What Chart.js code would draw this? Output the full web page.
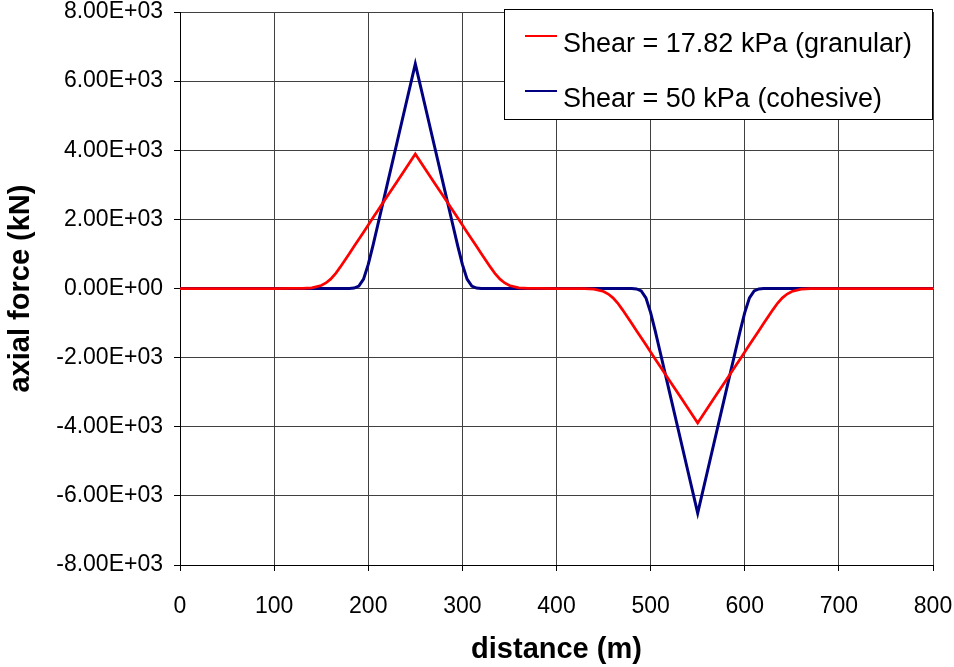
<!DOCTYPE html>
<html>
<head>
<meta charset="utf-8">
<title>Axial force vs distance</title>
<script src="https://cdn.jsdelivr.net/npm/chart.js@4.4.0/dist/chart.umd.min.js"></script>
<style>
    html, body { margin: 0; padding: 0; background: #fff; }
    canvas { display: block; }
</style>
</head>
<body>
<canvas id="forceChart" width="954" height="667"></canvas>
<script>
// distance along the line (m)
const distances = [
    0, 50, 100, 120, 130, 140, 150, 155, 160, 165, 170, 175, 180, 185, 190, 195,
    200, 205, 210, 220, 230, 240, 250, 260, 270, 280, 290, 295, 300, 305, 310,
    315, 320, 325, 330, 335, 340, 345, 350, 360, 370, 380, 400,
    420, 430, 440, 450, 455, 460, 465, 470, 475, 480, 485, 490, 495, 500, 505,
    510, 520, 530, 540, 550, 560, 570, 580, 590, 595, 600, 605, 610, 615, 620,
    625, 630, 635, 640, 645, 650, 660, 670, 680, 700, 750, 800
];

// axial force (kN), granular soil
const granular = [
    0, 0, 0, 1, 5, 20, 85, 160, 270, 420, 610, 810, 1015, 1220, 1425, 1630,
    1835, 2045, 2250, 2660, 3070, 3480, 3890, 3480, 3070, 2660, 2250, 2045, 1835, 1630, 1425,
    1220, 1015, 810, 610, 420, 270, 160, 85, 20, 5, 1, 0,
    -1, -5, -20, -85, -160, -270, -420, -610, -810, -1015, -1220, -1425, -1630, -1835, -2045,
    -2250, -2660, -3070, -3480, -3890, -3480, -3070, -2660, -2250, -2045, -1835, -1630, -1425, -1220, -1015,
    -810, -610, -420, -270, -160, -85, -20, -5, -1, 0, 0, 0
];

// axial force (kN), cohesive soil
const cohesive = [
    0, 0, 0, 0, 0, 0, 0, 0, 0, 0, 0, 1, 3, 13, 68, 270,
    697, 1243, 1823, 2990, 4160, 5330, 6500, 5330, 4160, 2990, 1823, 1243, 697, 270, 68,
    13, 3, 1, 0, 0, 0, 0, 0, 0, 0, 0, 0,
    0, 0, 0, 0, 0, 0, 0, 0, -1, -3, -13, -68, -270, -697, -1243,
    -1823, -2990, -4160, -5330, -6500, -5330, -4160, -2990, -1823, -1243, -697, -270, -68, -13, -3,
    -1, 0, 0, 0, 0, 0, 0, 0, 0, 0, 0, 0
];

const seriesLabels = ["Shear = 17.82 kPa (granular)", "Shear = 50 kPa (cohesive)"];
const xTicks = [0, 100, 200, 300, 400, 500, 600, 700, 800];
const yTicks = [-8000, -6000, -4000, -2000, 0, 2000, 4000, 6000, 8000];

const FONT = "'Liberation Sans', Arial, sans-serif";

function toPoints(values) {
    return distances.map(function (d, i) {
        return { x: d, y: values[i] };
    });
}

// 8000 -> "8.00E+03"
function sciLabel(value) {
    const parts = Number(value).toExponential(2).split("e");
    const exp = parseInt(parts[1], 10);
    const sign = exp < 0 ? "-" : "+";
    const digits = String(Math.abs(exp)).padStart(2, "0");
    return parts[0] + "E" + sign + digits;
}

// legend in a box at the top right, over the plot
const boxedLegend = {
    id: "boxedLegend",
    afterDraw: function (chart) {
        const ctx = chart.ctx;
        const right = chart.chartArea.right;
        const left = 504, top = 9, bottom = 119;
        ctx.save();
        ctx.fillStyle = "#ffffff";
        ctx.fillRect(left, top, right - left, bottom - top);
        ctx.strokeStyle = "#000000";
        ctx.lineWidth = 1;
        ctx.strokeRect(left + 0.5, top + 0.5, right - left - 1, bottom - top);
        ctx.font = "27px " + FONT;
        ctx.textBaseline = "alphabetic";
        chart.data.datasets.forEach(function (ds, i) {
            const y = 36 + i * 55;
            ctx.strokeStyle = ds.borderColor;
            ctx.lineWidth = 2;
            ctx.beginPath();
            ctx.moveTo(525, y);
            ctx.lineTo(557, y);
            ctx.stroke();
            ctx.fillStyle = "#000000";
            ctx.fillText(ds.label, 563, y + 16);
        });
        ctx.restore();
    },
};

const ctx = document.getElementById("forceChart");

new Chart(ctx, {
    type: "line",
    data: {
        datasets: [
            {
                label: seriesLabels[0],
                data: toPoints(granular),
                borderColor: "#ff0000",
                borderWidth: 2.75,
                pointRadius: 0,
                tension: 0,
            },
            {
                label: seriesLabels[1],
                data: toPoints(cohesive),
                borderColor: "#000080",
                borderWidth: 3,
                pointRadius: 0,
                tension: 0,
            },
        ],
    },
    options: {
        responsive: false,
        animation: false,
        layout: {
            padding: { top: 12, right: 21, left: 0, bottom: 0 },
        },
        plugins: {
            legend: { display: false },
            tooltip: { enabled: false },
        },
        scales: {
            x: {
                type: "linear",
                min: 0,
                max: 800,
                afterBuildTicks: function (scale) {
                    scale.ticks = xTicks.map(function (v) { return { value: v }; });
                },
                afterFit: function (scale) {
                    scale.height = 102;
                    // the end labels may hang past the plot edges
                    scale.paddingLeft = 0;
                    scale.paddingRight = 0;
                },
                grid: {
                    color: "#404040",
                    lineWidth: 1,
                    tickLength: 6,
                    tickColor: "#000000",
                },
                border: { color: "#000000", width: 1 },
                ticks: {
                    color: "#000000",
                    font: { family: FONT, size: 23 },
                    padding: 22,
                    maxRotation: 0,
                },
                title: {
                    display: true,
                    text: "distance (m)",
                    color: "#000000",
                    font: { family: FONT, size: 29, weight: "bold" },
                    padding: { top: 0, bottom: 0 },
                },
            },
            y: {
                type: "linear",
                min: -8000,
                max: 8000,
                afterBuildTicks: function (scale) {
                    scale.ticks = yTicks.map(function (v) { return { value: v }; });
                },
                afterFit: function (scale) {
                    scale.width = 180;
                    scale.paddingTop = 0;
                    scale.paddingBottom = 0;
                },
                grid: {
                    color: "#404040",
                    lineWidth: 1,
                    tickLength: 6,
                    tickColor: "#000000",
                },
                border: { color: "#000000", width: 1 },
                ticks: {
                    color: "#000000",
                    font: { family: FONT, size: 23 },
                    padding: 11,
                    callback: function (value) {
                        return sciLabel(value);
                    },
                },
                title: {
                    display: true,
                    text: "axial force (kN)",
                    color: "#000000",
                    font: { family: FONT, size: 29, weight: "bold" },
                    padding: { top: 4, bottom: 0 },
                },
            },
        },
    },
    plugins: [boxedLegend],
});
</script>
</body>
</html>
